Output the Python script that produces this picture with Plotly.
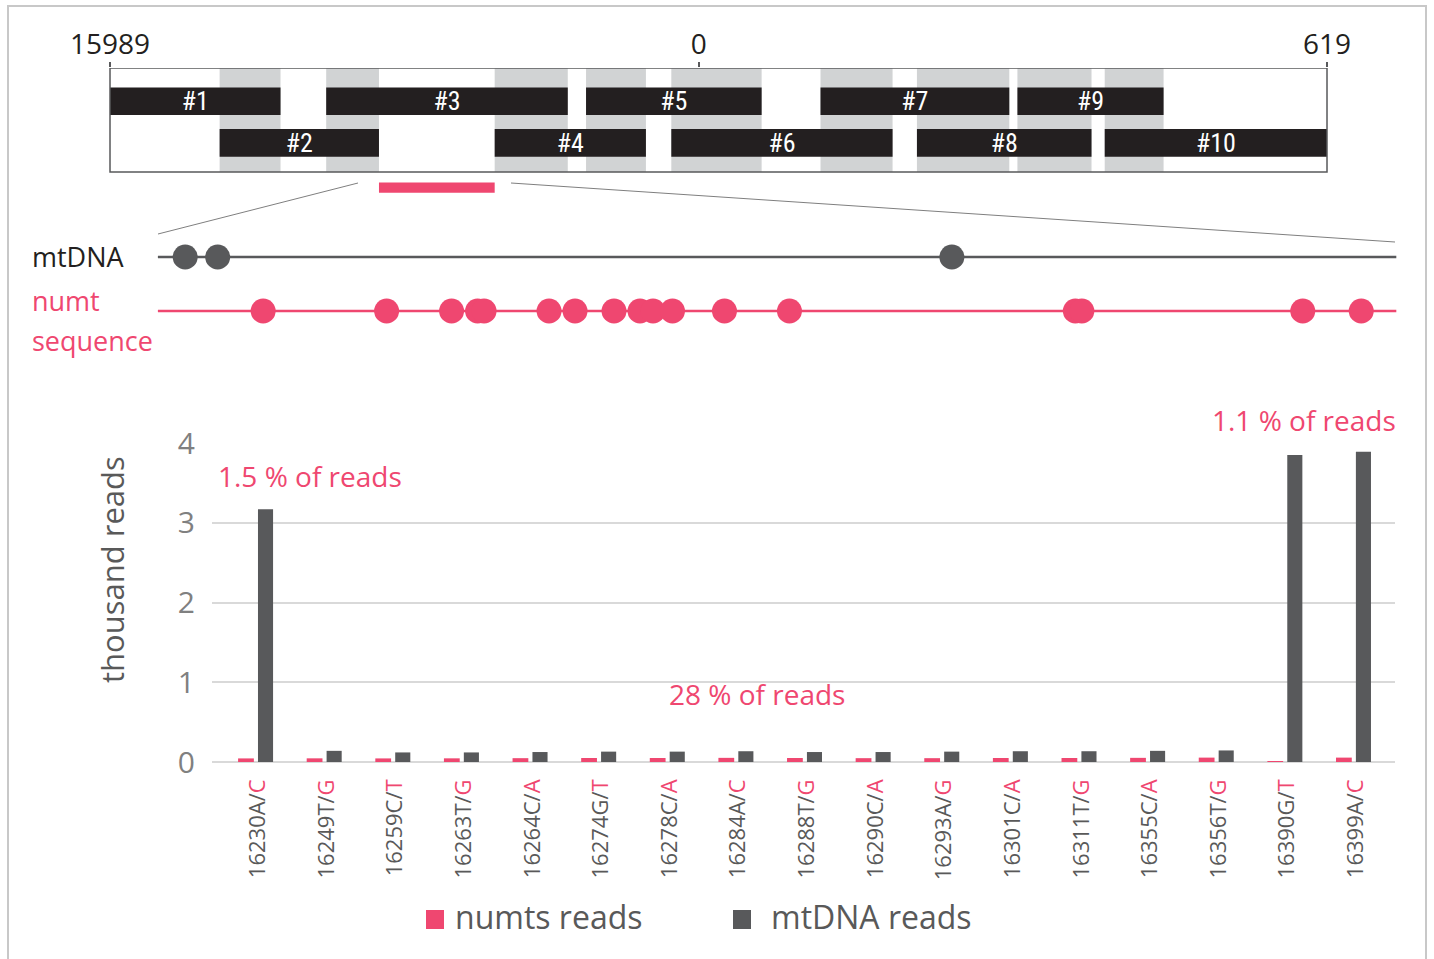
import plotly.graph_objects as go

W, H = 1434, 959
PINK = "#EF4770"
DARK = "#58595B"
BLACK = "#231F20"
SHADE = "#D1D3D4"
GRID = "#D9D9D9"
TXT = "#595959"
FONT = "Open Sans, Noto Sans, sans-serif"
NARROW = "Liberation Sans Narrow, Roboto Condensed, Liberation Sans, sans-serif"

# ---- overview strip: amplicons across the control region (circular genome) ----
MT_LEN = 16569
WIN_START = 15989
WIN_END = 619
amp_names = ["#1", "#2", "#3", "#4", "#5", "#6", "#7", "#8", "#9", "#10"]
amp_start = [15989, 16097, 16202, 16368, 16458, 16542, 120, 215, 314, 400]
amp_end = [16157, 16254, 16440, 16517, 62, 191, 306, 387, 458, 619]
amp_row = [1, 0, 1, 0, 1, 0, 1, 0, 1, 0]          # 1 = upper lane, 0 = lower lane
numt_region = [16254, 16368]
strip_ticks = [15989, 0, 619]

# ---- variant sites inside the numt region ----
var_pos = [16230, 16249, 16259, 16263, 16264, 16274, 16278, 16284, 16288,
           16290, 16293, 16301, 16311, 16355, 16356, 16390, 16399]
var_ref = ["16230A/", "16249T/", "16259C/", "16263T/", "16264C/", "16274G/",
           "16278C/", "16284A/", "16288T/", "16290C/", "16293A/", "16301C/",
           "16311T/", "16355C/", "16356T/", "16390G/", "16399A/"]
var_alt = ["C", "G", "T", "G", "A", "T", "A", "C", "G", "A", "G", "A", "G",
           "A", "G", "T", "C"]
mt_diff_pos = [16218, 16223, 16336]

# ---- read counts (thousand reads) ----
numts_reads = [0.045, 0.046, 0.045, 0.046, 0.048, 0.050, 0.050, 0.052, 0.050,
               0.048, 0.048, 0.050, 0.050, 0.052, 0.055, 0.005, 0.055]
mtdna_reads = [3.17, 0.14, 0.12, 0.12, 0.125, 0.13, 0.13, 0.135, 0.125,
               0.125, 0.13, 0.135, 0.135, 0.14, 0.145, 3.85, 3.89]
y_ticks = [0, 1, 2, 3, 4]


def px(x):
    return x / W


def py(y):
    return 1 - y / H


def off(p):
    """Offset of a genome position from the strip start, wrapping at position 0."""
    return p - WIN_START if p >= WIN_START else p + MT_LEN - WIN_START


fig = go.Figure()

# overlap shading between consecutive amplicons
for i in range(len(amp_names) - 1):
    s = off(amp_start[i + 1])
    e = off(amp_end[i])
    fig.add_trace(go.Bar(
        orientation="h", y=[0.5], x=[e - s], base=[s], width=[1.0],
        marker=dict(color=SHADE, line=dict(width=0)),
        xaxis="x", yaxis="y", showlegend=False, hoverinfo="skip"))

# amplicon bars
lane_y = {1: 0.68, 0: 0.28}
for name, s, e, r in zip(amp_names, amp_start, amp_end, amp_row):
    fig.add_trace(go.Bar(
        orientation="h", y=[lane_y[r]], x=[off(e) - off(s)], base=[off(s)],
        width=[0.265], text=[name], textposition="inside",
        insidetextanchor="middle", textangle=0, constraintext="none",
        textfont=dict(family=NARROW, size=26, color="white"),
        marker=dict(color=BLACK, line=dict(width=0)),
        xaxis="x", yaxis="y", showlegend=False, hoverinfo="skip"))

# variant map: mtDNA vs numt sequence
LINE_X = [16213.8, 16404.4]
fig.add_trace(go.Scatter(
    x=LINE_X, y=[1, 1], mode="lines", line=dict(color=DARK, width=2.5),
    xaxis="x2", yaxis="y2", showlegend=False, hoverinfo="skip"))
fig.add_trace(go.Scatter(
    x=LINE_X, y=[0, 0], mode="lines", line=dict(color=PINK, width=2.5),
    xaxis="x2", yaxis="y2", showlegend=False, hoverinfo="skip"))
fig.add_trace(go.Scatter(
    x=mt_diff_pos, y=[1] * len(mt_diff_pos), mode="markers",
    marker=dict(color=DARK, size=25, line=dict(width=0)),
    xaxis="x2", yaxis="y2", showlegend=False, hoverinfo="skip"))
fig.add_trace(go.Scatter(
    x=var_pos, y=[0] * len(var_pos), mode="markers",
    marker=dict(color=PINK, size=25, line=dict(width=0)),
    xaxis="x2", yaxis="y2", showlegend=False, hoverinfo="skip"))

# read count bars
idx = list(range(len(var_pos)))
fig.add_trace(go.Bar(
    x=idx, y=numts_reads, offset=-0.29, width=0.23, name="numts reads",
    marker=dict(color=PINK, line=dict(width=0)),
    xaxis="x3", yaxis="y3", showlegend=False))
fig.add_trace(go.Bar(
    x=idx, y=mtdna_reads, offset=0.0, width=0.22, name="mtDNA reads",
    marker=dict(color=DARK, line=dict(width=0)),
    xaxis="x3", yaxis="y3", showlegend=False))

tick_text = [f"{r}<span style='color:{PINK}'>{a}</span>" for r, a in zip(var_ref, var_alt)]

# strip x-range in offsets with a small pad so the frame is not clipped
pad = 5
span = off(WIN_END)
ppb = (1327 - 110) / span
strip_dom = [px(110 - pad * ppb), px(1327 + pad * ppb)]

shapes = [
    # outer frame
    dict(type="rect", xref="paper", yref="paper", x0=px(8), x1=px(1426),
         y0=py(965), y1=py(6), line=dict(color="#C8C8C8", width=2)),
    # strip frame
    dict(type="rect", xref="x", yref="y", x0=0, x1=span, y0=0, y1=1,
         line=dict(color=DARK, width=1.5), layer="above"),
    # numt region marker
    dict(type="rect", xref="x", yref="y", x0=off(numt_region[0]),
         x1=off(numt_region[1]), y0=-0.1, y1=-0.2,
         fillcolor=PINK, line=dict(width=0)),
    # zoom connectors
    dict(type="line", xref="paper", yref="paper", x0=px(358), y0=py(183),
         x1=px(158), y1=py(234), line=dict(color="#7F7F7F", width=1)),
    dict(type="line", xref="paper", yref="paper", x0=px(511), y0=py(183),
         x1=px(1395), y1=py(242), line=dict(color="#7F7F7F", width=1)),
    # legend swatches
    dict(type="rect", xref="paper", yref="paper", x0=px(426), x1=px(444),
         y0=py(929), y1=py(910), fillcolor=PINK, line=dict(width=0)),
    dict(type="rect", xref="paper", yref="paper", x0=px(733), x1=px(751),
         y0=py(929), y1=py(910), fillcolor=DARK, line=dict(width=0)),
]

annotations = [
    dict(text="mtDNA", x=px(30), y=py(256), font=dict(size=27, color=BLACK)),
    dict(text="numt", x=px(30), y=py(301), font=dict(size=27, color=PINK)),
    dict(text="sequence", x=px(30), y=py(340), font=dict(size=27, color=PINK)),
    dict(text="1.5 % of reads", x=px(216), y=py(476), font=dict(size=28, color=PINK)),
    dict(text="28 % of reads", x=px(667), y=py(694), font=dict(size=28, color=PINK)),
    dict(text="1.1 % of reads", x=px(1398), y=py(420), xanchor="right",
         font=dict(size=28, color=PINK)),
    dict(text="thousand reads", x=px(112), y=py(570), xanchor="center",
         textangle=-90, font=dict(size=31, color=TXT)),
    dict(text="numts reads", x=px(453), y=py(916), font=dict(size=32, color=TXT)),
    dict(text="mtDNA reads", x=px(769), y=py(916), font=dict(size=32, color=TXT)),
]
for a in annotations:
    a.setdefault("xanchor", "left")
    a.update(xref="paper", yref="paper", yanchor="middle", showarrow=False)
    a["font"]["family"] = FONT

fig.update_layout(
    width=W, height=H, autosize=False,
    margin=dict(l=0, r=0, t=0, b=0, pad=0),
    paper_bgcolor="white", plot_bgcolor="rgba(0,0,0,0)",
    barmode="overlay", font=dict(family=FONT, color=TXT),
    shapes=shapes, annotations=annotations,
    xaxis=dict(domain=strip_dom, range=[-pad, span + pad], side="top",
               anchor="y", tickmode="array", automargin=False,
               tickvals=[off(t) for t in strip_ticks],
               ticktext=[str(t) for t in strip_ticks],
               ticks="outside", ticklen=5, tickcolor=DARK, tickwidth=1.5,
               ticklabelstandoff=-3,
               tickfont=dict(size=28, color=BLACK), showgrid=False,
               zeroline=False, showline=False, fixedrange=True),
    yaxis=dict(domain=[py(200), py(68)], range=[-0.269, 1.0], anchor="x",
               visible=False, fixedrange=True, automargin=False),
    xaxis2=dict(domain=[0, 1], range=[16189.5, 16410.2], anchor="y2",
                visible=False, fixedrange=True, automargin=False),
    yaxis2=dict(domain=[py(338), py(230)], range=[-0.5, 1.5], anchor="x2",
                visible=False, fixedrange=True, automargin=False),
    xaxis3=dict(domain=[px(212), px(1395)], range=[-0.67, 16.57], anchor="y3",
                tickmode="array", tickvals=idx, ticktext=tick_text,
                tickangle=-90, tickfont=dict(size=22, color=TXT),
                ticklabelstandoff=12, showgrid=False, zeroline=False,
                showline=False, ticks="", fixedrange=True, automargin=False),
    yaxis3=dict(domain=[py(762), py(443)], range=[0, 4], anchor="x3",
                tickmode="array", tickvals=y_ticks,
                tickfont=dict(size=30, color="#808080"), automargin=False,
                ticklabelstandoff=16, showgrid=True, gridcolor=GRID,
                gridwidth=1.5, zeroline=True, zerolinecolor=GRID,
                zerolinewidth=2, showline=False, ticks="", fixedrange=True),
)

fig.write_html("out.html")
